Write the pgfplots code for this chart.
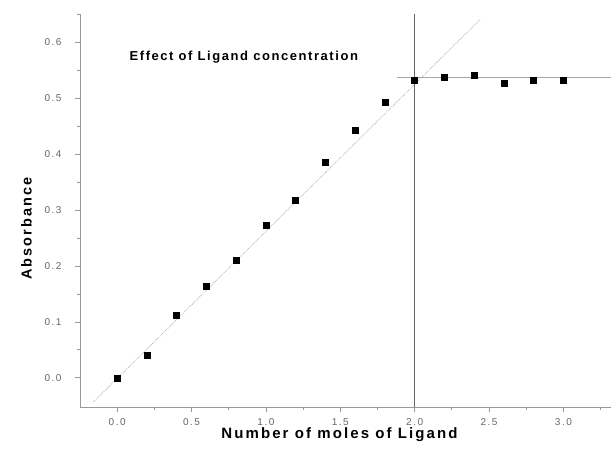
\documentclass[border=0pt]{standalone}
\usepackage{pgfplots}
\pgfplotsset{compat=1.18}
\usepackage{fontspec}
\setmainfont{Liberation Sans}
\newfontfamily\wideA[LetterSpace=14]{Liberation Sans}
\newfontfamily\wideB[LetterSpace=12]{Liberation Sans}
\newfontfamily\wideC[LetterSpace=15]{Liberation Sans}
\begin{document}
\begin{tikzpicture}
\begin{axis}[name=ax,
  scale only axis, width=531pt, height=393pt,
  xmin=-0.25, xmax=3.32, ymin=-0.052, ymax=0.65,
  axis x line*=bottom, axis y line*=left,
  axis line style={-, gray!80, line width=0.8pt},
  xtick={0,0.5,...,3.0}, ytick={0,0.1,...,0.6},
  minor xtick={0.25,0.75,...,3.25}, minor ytick={0.05,0.15,...,0.65},
  tick align=outside, tick style={gray!80, line width=0.8pt},
  major tick length=5pt, minor tick length=3pt,
  xticklabel style={text=gray!80!black, font=\wideC\fontsize{10}{11}\selectfont, yshift=-3pt},
  yticklabel style={text=gray!80!black, font=\wideC\fontsize{10}{11}\selectfont, xshift=-10pt},
  /pgf/number format/assume math mode=true,
  /pgf/number format/fixed, /pgf/number format/fixed zerofill, /pgf/number format/precision=1,
  xlabel={Number of moles of Ligand}, ylabel={Absorbance},
  xlabel style={font=\wideA\bfseries\fontsize{15}{16}\selectfont, yshift=5pt, xshift=-6pt},
  ylabel style={font=\wideA\bfseries\fontsize{14.5}{15}\selectfont, yshift=6pt, xshift=-18pt},
  clip=false,
]
\addplot[gray!60, densely dotted, line width=0.8pt] coordinates {(-0.16,-0.043) (2.44,0.64)};
\addplot[gray!70, line width=0.8pt] coordinates {(1.88,0.537) (3.32,0.537)};
\addplot[gray!80!black, line width=1pt] coordinates {(2.0,-0.052) (2.0,0.65)};
\addplot[only marks, mark=square*, mark size=3pt, black] coordinates {
(0.0,0.0) (0.2,0.040) (0.4,0.112) (0.6,0.164) (0.8,0.210) (1.0,0.273)
(1.2,0.318) (1.4,0.385) (1.6,0.443) (1.8,0.493) (2.0,0.532) (2.2,0.538)
(2.4,0.540) (2.6,0.527) (2.8,0.532) (3.0,0.532)};
\node[font=\wideB\bfseries\fontsize{13}{14}\selectfont, anchor=west] at (axis cs:0.06,0.573) {Effect of Ligand concentration};
\end{axis}
\pgfresetboundingbox
\path ([xshift=-80pt,yshift=-41pt]ax.south west) rectangle ([yshift=14pt]ax.north east);
\end{tikzpicture}
\end{document}
